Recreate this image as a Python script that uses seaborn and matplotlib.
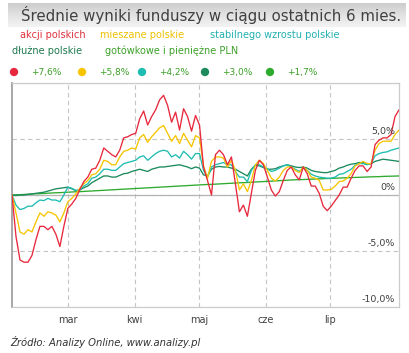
import matplotlib
matplotlib.use("Agg")
import matplotlib.pyplot as plt
import matplotlib.dates as mdates
from matplotlib.colors import LinearSegmentedColormap
from matplotlib.ticker import FuncFormatter
import numpy as np
import pandas as pd
import seaborn as sns

# --- data (cumulative return, %) ---
start_date, end_date = "2010-02-03", "2010-08-02"

akcji = [0.0, -3.7, -5.8, -6.0, -6.0, -5.4, -4.0, -2.8, -2.8, -3.1,
         -2.8, -3.5, -4.6, -2.8, -1.2, -0.8, -0.3, 0.5, 1.2, 1.6,
         2.3, 2.4, 3.1, 4.2, 3.9, 3.6, 3.4, 4.0, 5.1, 5.2,
         5.4, 5.5, 6.8, 7.5, 6.25, 7.0, 7.6, 8.5, 8.9, 8.0,
         6.5, 7.4, 5.8, 7.7, 7.0, 5.7, 7.1, 6.25, 2.5, 1.3,
         0.0, 3.6, 4.0, 3.6, 2.7, 3.4, 1.0, -1.5, -0.9, -1.9,
         0.15, 2.2, 3.1, 2.7, 1.6, 0.45, -0.1, 0.3, 1.3, 2.2,
         2.5, 1.8, 1.35, 2.5, 1.9, 0.8, 0.8, 0.15, -1.0, -1.4,
         -1.0, -0.5, 0.0, 0.7, 0.7, 1.5, 2.2, 2.6, 2.6, 2.1,
         2.5, 4.5, 4.9, 5.1, 5.1, 5.4, 7.0, 7.6]

mieszane = [0.0, -1.6, -3.3, -3.5, -3.1, -3.3, -2.4, -1.6, -1.9, -1.5,
            -1.6, -1.8, -2.4, -1.6, -0.6, -0.3, 0.1, 0.6, 1.0, 1.3,
            1.8, 1.9, 2.3, 3.1, 3.0, 2.7, 2.7, 3.4, 3.9, 4.0,
            4.2, 4.1, 5.1, 5.4, 4.7, 5.2, 5.6, 6.0, 6.2, 5.5,
            4.8, 5.3, 4.6, 5.5, 4.9, 4.3, 5.3, 5.1, 2.6, 1.5,
            3.0, 3.4, 3.4, 3.3, 2.5, 3.1, 2.2, 0.45, 1.0, 0.3,
            1.3, 2.7, 3.1, 2.8, 2.2, 1.5, 1.25, 1.6, 2.2, 2.5,
            2.5, 2.2, 2.0, 2.5, 2.2, 1.6, 1.5, 1.3, 0.45, 0.45,
            0.5, 0.8, 1.2, 1.25, 1.5, 1.9, 2.6, 2.8, 3.0, 2.8,
            2.8, 4.0, 4.6, 4.8, 4.8, 4.8, 5.4, 5.8]

stabilnego = [0.0, -0.9, -1.3, -1.2, -1.0, -1.0, -0.7, -0.45, -0.5, -0.3,
              -0.45, -0.45, -0.6, 0.0, 0.7, 0.6, 0.4, 0.45, 0.8, 1.0,
              1.5, 1.6, 1.9, 2.3, 2.3, 2.2, 2.2, 2.5, 2.8, 2.9,
              3.0, 3.1, 3.4, 3.5, 3.1, 3.4, 3.7, 3.9, 4.0, 3.9,
              3.4, 3.6, 3.3, 3.9, 3.6, 3.2, 3.7, 3.7, 2.2, 1.6,
              2.5, 2.7, 2.8, 2.9, 2.7, 2.7, 2.1, 1.6, 1.6, 1.2,
              2.2, 2.7, 2.7, 2.5, 2.35, 2.1, 2.2, 2.4, 2.6, 2.7,
              2.5, 2.3, 2.1, 2.4, 2.2, 1.85, 1.7, 1.6, 1.55, 1.5,
              1.5, 1.6, 1.85, 1.9, 2.1, 2.3, 2.65, 2.8, 2.8, 2.7,
              2.8, 3.5, 3.7, 3.8, 3.85, 4.0, 4.1, 4.2]

dluzne = [0.0, -0.05, 0.0, 0.0, 0.05, 0.1, 0.15, 0.2, 0.25, 0.35,
          0.45, 0.55, 0.6, 0.65, 0.7, 0.55, 0.4, 0.45, 0.65, 0.8,
          1.1, 1.3, 1.5, 1.7, 1.7, 1.6, 1.6, 1.75, 1.9, 1.95,
          2.1, 2.2, 2.3, 2.2, 2.1, 2.3, 2.4, 2.5, 2.5, 2.55,
          2.6, 2.65, 2.7, 2.6, 2.5, 2.35, 2.5, 2.4, 1.8, 1.7,
          2.3, 2.5, 2.55, 2.5, 2.5, 2.4, 2.3, 2.1, 1.9, 1.7,
          2.3, 2.65, 2.6, 2.45, 2.3, 2.3, 2.35, 2.5, 2.6, 2.7,
          2.6, 2.5, 2.45, 2.5, 2.4, 2.2, 2.1, 2.05, 2.0, 2.0,
          2.1, 2.2, 2.4, 2.5, 2.65, 2.75, 2.8, 2.9, 2.9, 2.8,
          2.8, 3.0, 3.1, 3.2, 3.15, 3.1, 3.05, 3.0]

gotowkowe = [0.00, 0.02, 0.03, 0.05, 0.07, 0.09, 0.11, 0.12, 0.14, 0.16,
             0.18, 0.20, 0.21, 0.23, 0.25, 0.27, 0.29, 0.30, 0.32, 0.34,
             0.36, 0.38, 0.40, 0.42, 0.44, 0.46, 0.48, 0.50, 0.52, 0.54,
             0.56, 0.58, 0.60, 0.62, 0.64, 0.66, 0.68, 0.70, 0.72, 0.74,
             0.76, 0.78, 0.80, 0.82, 0.84, 0.86, 0.88, 0.90, 0.92, 0.94,
             0.95, 0.97, 0.99, 1.01, 1.03, 1.05, 1.07, 1.09, 1.10, 1.12,
             1.14, 1.16, 1.18, 1.20, 1.22, 1.24, 1.26, 1.28, 1.30, 1.32,
             1.34, 1.36, 1.37, 1.38, 1.40, 1.41, 1.43, 1.44, 1.46, 1.47,
             1.48, 1.50, 1.51, 1.53, 1.54, 1.55, 1.57, 1.58, 1.59, 1.61,
             1.62, 1.63, 1.64, 1.66, 1.67, 1.68, 1.69, 1.70]

fund_names = ["akcji polskich", "mieszane polskie", "stabilnego wzrostu polskie",
              "dłużne polskie", "gotówkowe i pieniężne PLN"]
final_labels = ["+7,6%", "+5,8%", "+4,2%", "+3,0%", "+1,7%"]
month_labels = {3: "mar", 4: "kwi", 5: "maj", 6: "cze", 7: "lip"}
y_ticks = [-10, -5, 0, 5]
y_tick_labels = ["-10,0%", "-5,0%", "0%", "5,0%"]

line_colors = ["#e8283c", "#f7c400", "#1fbcb2", "#1b8a5c", "#2eaa2e"]
text_colors = ["#e0303c", "#eec000", "#22b0b0", "#1e7a4e", "#3ca028"]

dates = pd.date_range(start_date, end_date, periods=len(akcji))
wide = pd.DataFrame({"data": dates})
for name, vals in zip(fund_names, [akcji, mieszane, stabilnego, dluzne, gotowkowe]):
    wide[name] = vals
df = wide.melt(id_vars="data", var_name="fundusz", value_name="wynik")

sns.set_theme(style="white")
plt.rcParams["font.family"] = ["DejaVu Sans"]

fig = plt.figure(figsize=(4.10, 3.53), dpi=100)
fig.patch.set_facecolor("white")

# plot area
ax = fig.add_axes([12 / 410, 1 - 307 / 353, 387 / 410, 224 / 353])
ax.set_facecolor("white")

draw_order = fund_names[::-1]
sns.lineplot(data=df, x="data", y="wynik", hue="fundusz", hue_order=draw_order,
             palette=dict(zip(fund_names, line_colors)), linewidth=0.95,
             legend=False, ax=ax, zorder=3)

ax.set_xlim(dates[0], dates[-1])
ax.set_ylim(-10, 10)
ax.set_xlabel("")
ax.set_ylabel("")

ax.xaxis.set_major_locator(mdates.MonthLocator(bymonth=list(month_labels)))
ax.xaxis.set_major_formatter(FuncFormatter(lambda v, p: month_labels.get(mdates.num2date(v).month, "")))
ax.set_yticks([-10, -5, 0, 5, 10])
ax.tick_params(axis="y", left=False, labelleft=False)
ax.tick_params(axis="x", direction="in", length=3, width=0.8, color="#b0b0b0",
               pad=6, labelsize=7, labelcolor="#404040")

ax.grid(True, linestyle=(0, (4, 3)), color="#c4c4c4", linewidth=0.8, zorder=1)
ax.axhline(0, color="#b4b4b4", linewidth=0.9, zorder=2)

for side in ["top", "right", "bottom"]:
    ax.spines[side].set_color("#cccccc")
    ax.spines[side].set_linewidth(0.9)
ax.spines["left"].set_color("#a8a8a8")
ax.spines["left"].set_linewidth(1.4)

for v, lab in zip(y_ticks, y_tick_labels):
    ax.text(0.99, v + 0.25, lab, transform=ax.get_yaxis_transform(), ha="right",
            va="bottom", fontsize=6.8, color="#404040", zorder=4)

# overlay for title bar, legend and source (pixel coordinates)
over = fig.add_axes([0, 0, 1, 1], zorder=5)
over.set_axis_off()
grad = LinearSegmentedColormap.from_list("bar", ["#cdcdcd", "#e2e2e2", "#f3f3f3"])
over.imshow(np.linspace(0, 1, 30).reshape(-1, 1), cmap=grad, aspect="auto",
            extent=(8, 406, 27, 3))
over.set_xlim(0, 410)
over.set_ylim(353, 0)

over.text(401, 15.5, "Średnie wyniki funduszy w ciągu ostatnich 6 mies.", ha="right",
          va="center", fontsize=10.8, color="#404040")

legend_pos = [(20, 35), (100, 35), (210, 35), (12, 51), (105, 51)]
for (x, y), name, col in zip(legend_pos, fund_names, text_colors):
    over.text(x, y, name, color=col, fontsize=7, va="center", ha="left")

dot_x = [14, 82, 142, 205, 270]
over.scatter(dot_x, [72] * len(dot_x), s=36, c=line_colors, linewidths=0)
for x, lab in zip(dot_x, final_labels):
    over.text(x + 17, 72, lab, color="#3ca028", fontsize=6.5, va="center", ha="left")

over.text(10, 342, "Źródło: Analizy Online, www.analizy.pl", style="italic",
          fontsize=7.2, color="#333333", va="center", ha="left")

fig.savefig("out.png", dpi=100)
